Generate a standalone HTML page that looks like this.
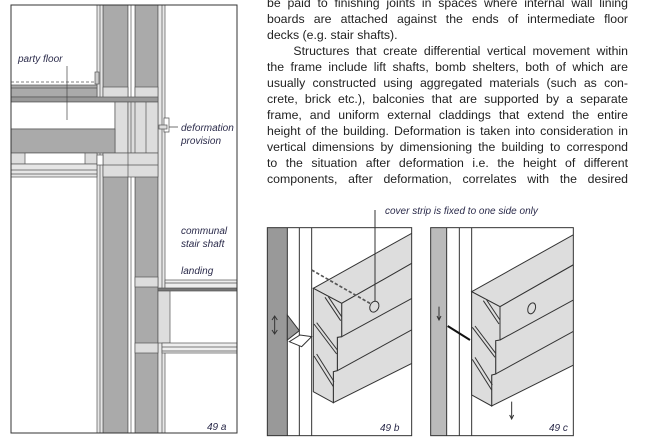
<!DOCTYPE html>
<html><head><meta charset="utf-8"><style>
html,body{margin:0;padding:0;background:#fff;}
body{width:654px;height:443px;overflow:hidden;position:relative;font-family:"Liberation Sans",sans-serif;}
.txt{position:absolute;left:267px;top:-5px;width:361px;font-size:12.3px;line-height:16px;color:#222;}
.txt div{text-align:justify;text-align-last:justify;white-space:nowrap;}
.txt div.l{text-align-last:left;}
svg{position:absolute;left:0;top:0;}
.lb{font-style:italic;font-size:10px;fill:#2a2a4a;font-family:"Liberation Sans",sans-serif;}
</style></head><body>
<div class="txt">
<div>be paid to finishing joints in spaces where internal wall lining</div>
<div>boards are attached against the ends of intermediate floor</div>
<div class="l">decks (e.g. stair shafts).</div>
<div>&nbsp;&nbsp;&nbsp;&nbsp;Structures that create differential vertical movement within</div>
<div>the frame include lift shafts, bomb shelters, both of which are</div>
<div>usually constructed using aggregated materials (such as con-</div>
<div>crete, brick etc.), balconies that are supported by a separate</div>
<div>frame, and uniform external claddings that extend the entire</div>
<div>height of the building. Deformation is taken into consideration in</div>
<div>vertical dimensions by dimensioning the building to correspond</div>
<div>to the situation after deformation i.e. the height of different</div>
<div>components, after deformation, correlates with the desired</div>
</div>
<svg width="654" height="443" viewBox="0 0 654 443">
<defs><clipPath id="ca"><rect x="11" y="5" width="226" height="428"/></clipPath></defs>
<g clip-path="url(#ca)" stroke="#555" stroke-width="0.7">
<!-- column dark parts -->
<rect x="103" y="5" width="25" height="428" fill="#aaa"/>
<rect x="135" y="5" width="23" height="428" fill="#aaa"/>
<rect x="128" y="5" width="7" height="428" fill="#fff"/>
<line x1="131" y1="5" x2="131" y2="433"/>
<rect x="97" y="5" width="6" height="428" fill="#e6e6e6"/>
<line x1="100" y1="5" x2="100" y2="433"/>
<rect x="158" y="5" width="7" height="428" fill="#e8e8e8"/>
<line x1="162" y1="5" x2="162" y2="433"/>
<!-- upper light band -->
<rect x="103" y="87" width="25" height="13" fill="#ddd"/>
<rect x="135" y="87" width="23" height="13" fill="#ddd"/>
<!-- party floor -->
<line x1="11" y1="82" x2="95" y2="82" stroke-dasharray="3,2"/>
<rect x="11" y="85" width="86" height="12" fill="#aaa"/>
<line x1="11" y1="88" x2="97" y2="88"/>
<rect x="95" y="72" width="4" height="12" fill="#ccc"/>
<rect x="11" y="97" width="147" height="5" fill="#999"/>
<rect x="11" y="102" width="104" height="27" fill="#fff"/>
<rect x="115" y="102" width="13" height="51" fill="#ddd"/>
<rect x="128" y="102" width="30" height="51" fill="#ddd"/>
<line x1="131" y1="102" x2="131" y2="153"/><line x1="135" y1="102" x2="135" y2="153"/>
<line x1="146" y1="102" x2="146" y2="153"/>
<rect x="11" y="129" width="104" height="24" fill="#aaa"/>
<line x1="67" y1="66" x2="67" y2="120" stroke="#444"/>
<!-- below floor -->
<rect x="11" y="153" width="86" height="11" fill="#ddd"/>
<rect x="25" y="153" width="60" height="11" fill="#fff"/>
<rect x="11" y="164" width="86" height="13" fill="#e6e6e6"/>
<line x1="11" y1="170" x2="97" y2="170"/><line x1="11" y1="174" x2="97" y2="174"/>
<rect x="103" y="153" width="55" height="24" fill="#ddd"/>
<line x1="103" y1="165" x2="158" y2="165"/>
<line x1="128" y1="153" x2="128" y2="177"/>
<rect x="97" y="155" width="6" height="10" fill="#fff"/>
<!-- landing -->
<rect x="135" y="277" width="23" height="10" fill="#ddd"/>
<rect x="165" y="280" width="72" height="10" fill="#eee"/>
<line x1="165" y1="283" x2="237" y2="283"/>
<rect x="158" y="288" width="79" height="3" fill="#777"/>
<rect x="158" y="291" width="12" height="52" fill="#ddd"/>
<rect x="135" y="343" width="23" height="10" fill="#ddd"/>
<rect x="162" y="343" width="75" height="10" fill="#eee"/>
<line x1="162" y1="347" x2="237" y2="347"/><line x1="162" y1="351" x2="237" y2="351"/>
<!-- deformation provision -->
<path d="M164,118 h5 v14 h-5 z" fill="#fff"/>
<rect x="159" y="125" width="8" height="4" fill="#ddd"/>
<line x1="169" y1="127" x2="178" y2="127" stroke="#333"/>
</g>
<rect x="11" y="5" width="226" height="428" fill="none" stroke="#333" stroke-width="1"/>
<text class="lb" x="18" y="62">party floor</text>
<text class="lb" x="181" y="131">deformation</text>
<text class="lb" x="181" y="144">provision</text>
<text class="lb" x="181" y="234">communal</text>
<text class="lb" x="181" y="247">stair shaft</text>
<text class="lb" x="181" y="274">landing</text>
<text class="lb" x="207" y="430">49 a</text>

<text class="lb" x="385" y="214">cover strip is fixed to one side only</text>

<g transform="translate(260,200) scale(0.33333)" stroke="#333" stroke-width="3" fill="none">
<defs>
<clipPath id="cb"><rect x="22" y="83" width="433" height="624"/></clipPath>
<clipPath id="cc"><rect x="512" y="83" width="428" height="624"/></clipPath>
<g id="beam">
<polygon points="160,265 480,86 480,176 245,310" fill="#ddd"/>
<polygon points="245,310 480,176 480,478 220,608 220,515 232,512 232,412 245,410" fill="#ddd"/>
<polygon points="160,265 245,310 245,410 232,412 232,512 220,515 220,608 160,575" fill="#ddd"/>
<line x1="245" y1="410" x2="480" y2="282"/>
<line x1="232" y1="512" x2="480" y2="376"/>
<line x1="195" y1="292" x2="242" y2="362"/><line x1="205" y1="290" x2="245" y2="350"/>
<line x1="162" y1="372" x2="230" y2="462"/><line x1="170" y1="368" x2="232" y2="450"/>
<line x1="162" y1="468" x2="220" y2="560"/><line x1="170" y1="462" x2="222" y2="545"/>
</g>
</defs>
<!-- panel b -->
<g clip-path="url(#cb)">
<rect x="22" y="83" width="60" height="624" fill="#999" stroke="none"/>
<line x1="82" y1="83" x2="82" y2="707"/>
<line x1="118" y1="83" x2="118" y2="707"/>
<line x1="155" y1="83" x2="155" y2="707"/>
<polygon points="82,345 118,392 82,420" fill="#999"/>
<polygon points="88,425 120,405 155,410 125,440" fill="#fff"/>
<use href="#beam"/>
<line x1="155" y1="210" x2="335" y2="313" stroke-dasharray="10,6" stroke-width="5" stroke="#555"/>
<ellipse cx="343" cy="320" rx="13" ry="17" fill="#ddd" transform="rotate(25 343 320)"/>
<line x1="44" y1="350" x2="44" y2="400"/>
<polyline points="36,360 44,348 52,360"/><polyline points="36,390 44,402 52,390"/>
</g>
<line x1="345" y1="30" x2="345" y2="303"/>
<rect x="22" y="83" width="433" height="624"/>
<!-- panel c -->
<g clip-path="url(#cc)">
<rect x="512" y="83" width="48" height="624" fill="#bbb" stroke="none"/>
<line x1="560" y1="83" x2="560" y2="707"/>
<line x1="598" y1="83" x2="598" y2="707"/>
<line x1="635" y1="83" x2="635" y2="707"/>
<use href="#beam" transform="translate(475,10)"/>
<ellipse cx="815" cy="325" rx="11" ry="17" transform="rotate(20 815 325)"/>
<line x1="563" y1="378" x2="630" y2="420" stroke="#111" stroke-width="6"/>
<line x1="537" y1="320" x2="537" y2="358"/><polyline points="531,348 537,360 543,348"/>
<line x1="755" y1="605" x2="755" y2="655"/><polyline points="749,645 755,657 761,645"/>
</g>
<rect x="512" y="83" width="428" height="624"/>
</g>
<text class="lb" x="380" y="431">49 b</text>
<text class="lb" x="549" y="431">49 c</text>
</svg>
</body></html>
